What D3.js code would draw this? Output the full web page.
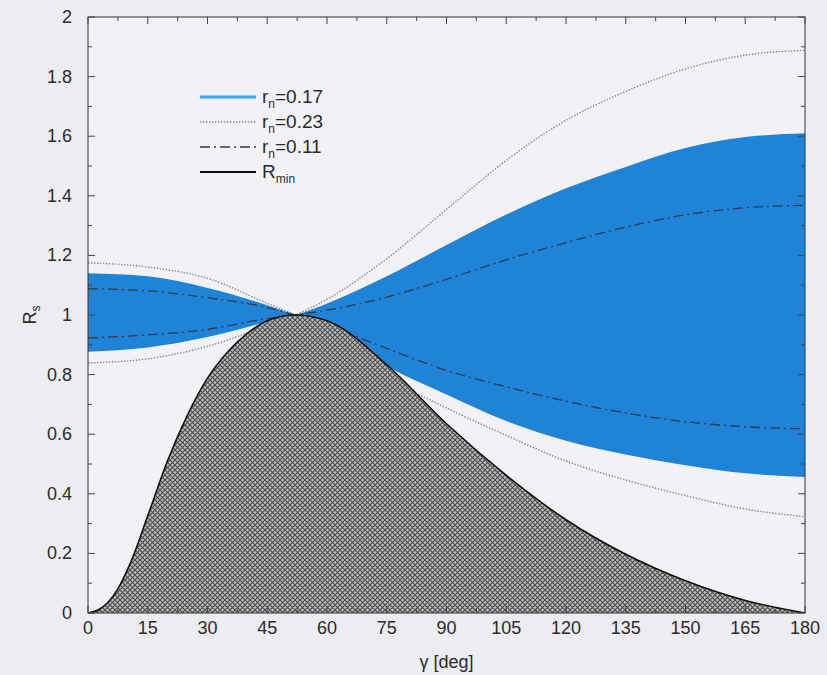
<!DOCTYPE html>
<html>
<head>
<meta charset="utf-8">
<script src="https://cdn.jsdelivr.net/npm/d3@7"></script>
<style>
  html, body { margin: 0; padding: 0; background: #ececf1; }
  svg { display: block; }
  text { font-family: "Liberation Sans", Arial, sans-serif; fill: #2b2b2b; }
</style>
</head>
<body>
<svg id="chart" width="827" height="675"></svg>
<script>
// Incidence angle samples (deg)
const gamma = [0, 15, 30, 45, 52, 60, 75, 90, 105, 120, 135, 150, 165, 180];

// r_n = 0.17 (filled band): rising and falling branches
const band17Rise = [0.877, 0.891, 0.926, 0.977, 1.000, 1.039, 1.130, 1.235, 1.337, 1.425, 1.497, 1.560, 1.597, 1.610];
const band17Fall = [1.140, 1.130, 1.091, 1.033, 1.000, 0.954, 0.828, 0.733, 0.644, 0.578, 0.532, 0.496, 0.469, 0.456];

// r_n = 0.23 (dotted)
const dot23Rise = [0.839, 0.853, 0.895, 0.965, 1.000, 1.053, 1.189, 1.354, 1.519, 1.653, 1.750, 1.826, 1.872, 1.888];
const dot23Fall = [1.175, 1.161, 1.123, 1.039, 1.000, 0.947, 0.793, 0.688, 0.596, 0.510, 0.446, 0.394, 0.349, 0.323];

// r_n = 0.11 (dash-dot)
const dash11Rise = [0.923, 0.933, 0.952, 0.988, 1.000, 1.016, 1.060, 1.120, 1.185, 1.243, 1.295, 1.336, 1.360, 1.368];
const dash11Fall = [1.088, 1.081, 1.058, 1.025, 1.000, 0.965, 0.888, 0.814, 0.759, 0.711, 0.671, 0.642, 0.625, 0.618];

// R_min curve (hatched region below it)
const rminGamma = [0, 2.5, 5, 7.5, 11, 15, 20, 25, 30, 35, 40, 45, 52, 60, 75, 90, 105, 120, 135, 150, 165, 180];
const rminValue = [0, 0.010, 0.035, 0.081, 0.179, 0.326, 0.512, 0.665, 0.788, 0.875, 0.938, 0.981, 1.0, 0.981, 0.833, 0.635, 0.462, 0.313, 0.197, 0.108, 0.042, 0];

// Axis ticks
const xTicks = [0, 15, 30, 45, 60, 75, 90, 105, 120, 135, 150, 165, 180];
const xMinorTicks = d3.range(7.5, 180, 15);
const yTicks = [0, 0.2, 0.4, 0.6, 0.8, 1, 1.2, 1.4, 1.6, 1.8, 2];
const yMinorTicks = d3.range(0.1, 2, 0.2);

const svg = d3.select("#chart");
const pLeft = 88, pRight = 805, pTop = 17, pBottom = 613;

const x = d3.scaleLinear().domain([0, 180]).range([pLeft, pRight]);
const y = d3.scaleLinear().domain([0, 2]).range([pBottom, pTop]);

// plot background
svg.append("rect").attr("x", pLeft).attr("y", pTop)
  .attr("width", pRight - pLeft).attr("height", pBottom - pTop)
  .attr("fill", "#f1f1f6");

// crosshatch pattern for the R_min region
const defs = svg.append("defs");
const pat = defs.append("pattern").attr("id", "hatch")
  .attr("patternUnits", "userSpaceOnUse").attr("width", 5).attr("height", 5);
pat.append("rect").attr("width", 5).attr("height", 5).attr("fill", "#bcbcbc");
pat.append("path").attr("d", "M0,0 L5,5 M5,0 L0,5")
  .attr("stroke", "#4a4a4a").attr("stroke-width", 1.1);

defs.append("clipPath").attr("id", "plotClip").append("rect")
  .attr("x", pLeft).attr("y", pTop).attr("width", pRight - pLeft).attr("height", pBottom - pTop);

const g = svg.append("g").attr("clip-path", "url(#plotClip)");

const pairs = (xs, ys) => xs.map((v, i) => [v, ys[i]]);

// r_n = 0.17 band: area between the two crossing branches
const bandData = gamma.map((v, i) => ({ g: v, a: band17Rise[i], b: band17Fall[i] }));
g.append("path").datum(bandData)
  .attr("d", d3.area().curve(d3.curveMonotoneX)
    .x(d => x(d.g)).y0(d => y(d.a)).y1(d => y(d.b)))
  .attr("fill", "#1f83d8").attr("fill-rule", "nonzero");

const line = d3.line().curve(d3.curveMonotoneX).x(d => x(d[0])).y(d => y(d[1]));

// r_n = 0.23 dotted branches
[dot23Rise, dot23Fall].forEach(arr => {
  g.append("path").datum(pairs(gamma, arr)).attr("d", line)
    .attr("fill", "none").attr("stroke", "#878787")
    .attr("stroke-width", 1.4).attr("stroke-dasharray", "1.4,1.6");
});

// r_n = 0.11 dash-dot branches
[dash11Rise, dash11Fall].forEach(arr => {
  g.append("path").datum(pairs(gamma, arr)).attr("d", line)
    .attr("fill", "none").attr("stroke", "#2f3a48")
    .attr("stroke-width", 1.3).attr("stroke-dasharray", "10,4,2,4");
});

// R_min hatched region
const rminData = pairs(rminGamma, rminValue);
g.append("path").datum(rminData)
  .attr("d", d3.area().curve(d3.curveMonotoneX)
    .x(d => x(d[0])).y0(y(0)).y1(d => y(d[1])))
  .attr("fill", "url(#hatch)");
g.append("path").datum(rminData).attr("d", line)
  .attr("fill", "none").attr("stroke", "#111").attr("stroke-width", 1.6);

// frame
svg.append("rect").attr("x", pLeft).attr("y", pTop)
  .attr("width", pRight - pLeft).attr("height", pBottom - pTop)
  .attr("fill", "none").attr("stroke", "#333").attr("stroke-width", 1);

// ticks on all four sides, pointing inward
const tickG = svg.append("g").attr("stroke", "#444").attr("stroke-width", 1);
const xTick = (t, len) => {
  tickG.append("line").attr("x1", x(t)).attr("x2", x(t)).attr("y1", pBottom).attr("y2", pBottom - len);
  tickG.append("line").attr("x1", x(t)).attr("x2", x(t)).attr("y1", pTop).attr("y2", pTop + len);
};
const yTick = (t, len) => {
  tickG.append("line").attr("x1", pLeft).attr("x2", pLeft + len).attr("y1", y(t)).attr("y2", y(t));
  tickG.append("line").attr("x1", pRight).attr("x2", pRight - len).attr("y1", y(t)).attr("y2", y(t));
};
xTicks.forEach(t => xTick(t, 7));
xMinorTicks.forEach(t => xTick(t, 4));
yTicks.forEach(t => yTick(t, 7));
yMinorTicks.forEach(t => yTick(t, 4));

// tick labels
svg.append("g").selectAll("text").data(xTicks).join("text")
  .attr("x", d => x(d)).attr("y", pBottom + 21)
  .attr("text-anchor", "middle").attr("font-size", 18).text(d => d);
svg.append("g").selectAll("text").data(yTicks).join("text")
  .attr("x", pLeft - 16).attr("y", d => y(d) + 6)
  .attr("text-anchor", "end").attr("font-size", 18).text(d => d);

// axis titles
svg.append("text").attr("x", (pLeft + pRight) / 2).attr("y", 668)
  .attr("text-anchor", "middle").attr("font-size", 18).text("γ [deg]");
const yt = svg.append("text").attr("transform", `translate(36,${y(1)}) rotate(-90)`)
  .attr("text-anchor", "middle").attr("font-size", 18);
yt.append("tspan").text("R");
yt.append("tspan").attr("font-size", 12).attr("dy", 4).text("s");

// legend
const legendItems = [
  { label: "0.17", sub: "n", pre: "r", color: "#3aa6ea", width: 3, dash: null },
  { label: "0.23", sub: "n", pre: "r", color: "#878787", width: 1.4, dash: "1.4,1.6" },
  { label: "0.11", sub: "n", pre: "r", color: "#2f3a48", width: 1.3, dash: "10,4,2,4" },
  { label: "", sub: "min", pre: "R", color: "#111", width: 1.8, dash: null }
];
const legendY = [97, 122, 147, 172];
legendItems.forEach((it, i) => {
  const ly = legendY[i];
  svg.append("line").attr("x1", 200).attr("x2", 256).attr("y1", ly).attr("y2", ly)
    .attr("stroke", it.color).attr("stroke-width", it.width)
    .attr("stroke-dasharray", it.dash);
  const t = svg.append("text").attr("x", 262).attr("y", ly + 6).attr("font-size", 19);
  t.append("tspan").text(it.pre);
  t.append("tspan").attr("font-size", 12).attr("dy", 5).text(it.sub);
  if (it.label) t.append("tspan").attr("dy", -5).text("=" + it.label);
});
</script>
</body>
</html>
